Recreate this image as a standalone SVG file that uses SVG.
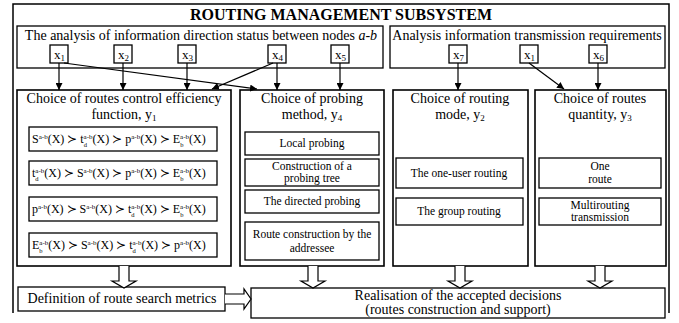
<svg xmlns="http://www.w3.org/2000/svg" width="679" height="323" viewBox="0 0 679 323" font-family="'Liberation Serif','Times New Roman',serif">
<defs>
<style>
text{font-family:"Liberation Serif","Times New Roman",serif;fill:#000}
.box{fill:#fff;stroke:#000;stroke-width:1.3}
.big{stroke-width:1.6}
.t13{font-size:14px}
.t12{font-size:14px}
.t11{font-size:11.5px}
.f{font-size:12px}
.sup{font-size:7px}
.sub{font-size:6.5px}
.xs{font-size:13px}
.xn{font-size:9px}
.title{font-size:16px;font-weight:bold}
.ln{stroke:#000;stroke-width:1.2;fill:none;marker-end:url(#ah)}
.hol{fill:#fff;stroke:#000;stroke-width:1.2}
</style>
<marker id="ah" viewBox="0 0 10 10" refX="10" refY="5" markerWidth="7" markerHeight="7" markerUnits="userSpaceOnUse" orient="auto">
<path d="M0,0 L10,5 L0,10 z" fill="#000"/>
</marker>
</defs>
<rect width="679" height="323" fill="#fff"/>
<path d="M13,313 V4 H669 V313" fill="none" stroke="#000" stroke-width="1.5"/>
<text class="title" x="341" y="20" text-anchor="middle">ROUTING MANAGEMENT SUBSYSTEM</text>

<g id="analysis-status">
<rect class="box" x="17" y="26" width="366" height="42"/>
<text class="t13" x="201" y="40" text-anchor="middle">The analysis of information direction status between nodes <tspan font-style="italic">a-b</tspan></text>
</g>
<g id="analysis-requirements">
<rect class="box" x="390" y="26" width="275" height="42"/>
<text class="t13" x="527" y="40" text-anchor="middle">Analysis information transmission requirements</text>
</g>

<g id="x1"><rect class="box" x="50" y="45" width="18" height="18"/><text class="xs" x="54" y="59">x<tspan class="xn" dy="2">1</tspan></text></g>
<g id="x2"><rect class="box" x="114" y="45" width="18" height="18"/><text class="xs" x="118" y="59">x<tspan class="xn" dy="2">2</tspan></text></g>
<g id="x3"><rect class="box" x="178" y="45" width="18" height="18"/><text class="xs" x="182" y="59">x<tspan class="xn" dy="2">3</tspan></text></g>
<g id="x4"><rect class="box" x="268" y="45" width="18" height="18"/><text class="xs" x="272" y="59">x<tspan class="xn" dy="2">4</tspan></text></g>
<g id="x5"><rect class="box" x="331" y="45" width="18" height="18"/><text class="xs" x="335" y="59">x<tspan class="xn" dy="2">5</tspan></text></g>
<g id="x7"><rect class="box" x="449" y="45" width="18" height="18"/><text class="xs" x="453" y="59">x<tspan class="xn" dy="2">7</tspan></text></g>
<g id="x1b"><rect class="box" x="520" y="45" width="18" height="18"/><text class="xs" x="524" y="59">x<tspan class="xn" dy="2">1</tspan></text></g>
<g id="x6"><rect class="box" x="589" y="45" width="18" height="18"/><text class="xs" x="593" y="59">x<tspan class="xn" dy="2">6</tspan></text></g>

<g id="efficiency">
<rect class="box big" x="17" y="90" width="214" height="176"/>
<text class="t13" x="124" y="103" text-anchor="middle">Choice of routes control efficiency</text>
<text class="t13" x="124" y="119" text-anchor="middle">function, y<tspan class="xn" dy="2">1</tspan></text>
<rect class="box" x="29" y="127" width="188" height="24"/>
<text class="f" x="32" y="143">S<tspan class="sup" dy="-4.5">a-b</tspan><tspan dy="4.5">(X) ≻ t</tspan><tspan class="sub" dy="3.5">d</tspan><tspan class="sup" dx="-3.3" dy="-8">a-b</tspan><tspan dy="4.5">(X) ≻ p</tspan><tspan class="sup" dy="-4.5">a-b</tspan><tspan dy="4.5">(X) ≻ E</tspan><tspan class="sub" dy="3.5">b</tspan><tspan class="sup" dx="-3.3" dy="-8">a-b</tspan><tspan dy="4.5">(X)</tspan></text>
<rect class="box" x="29" y="161" width="188" height="24"/>
<text class="f" x="32" y="177">t<tspan class="sub" dy="3.5">d</tspan><tspan class="sup" dx="-3.3" dy="-8">a-b</tspan><tspan dy="4.5">(X) ≻ S</tspan><tspan class="sup" dy="-4.5">a-b</tspan><tspan dy="4.5">(X) ≻ p</tspan><tspan class="sup" dy="-4.5">a-b</tspan><tspan dy="4.5">(X) ≻ E</tspan><tspan class="sub" dy="3.5">b</tspan><tspan class="sup" dx="-3.3" dy="-8">a-b</tspan><tspan dy="4.5">(X)</tspan></text>
<rect class="box" x="29" y="197" width="188" height="24"/>
<text class="f" x="32" y="213">p<tspan class="sup" dy="-4.5">a-b</tspan><tspan dy="4.5">(X) ≻ S</tspan><tspan class="sup" dy="-4.5">a-b</tspan><tspan dy="4.5">(X) ≻ t</tspan><tspan class="sub" dy="3.5">d</tspan><tspan class="sup" dx="-3.3" dy="-8">a-b</tspan><tspan dy="4.5">(X) ≻ E</tspan><tspan class="sub" dy="3.5">b</tspan><tspan class="sup" dx="-3.3" dy="-8">a-b</tspan><tspan dy="4.5">(X)</tspan></text>
<rect class="box" x="29" y="233" width="188" height="24"/>
<text class="f" x="32" y="249">E<tspan class="sub" dy="3.5">b</tspan><tspan class="sup" dx="-3.3" dy="-8">a-b</tspan><tspan dy="4.5">(X) ≻ S</tspan><tspan class="sup" dy="-4.5">a-b</tspan><tspan dy="4.5">(X) ≻ t</tspan><tspan class="sub" dy="3.5">d</tspan><tspan class="sup" dx="-3.3" dy="-8">a-b</tspan><tspan dy="4.5">(X) ≻ p</tspan><tspan class="sup" dy="-4.5">a-b</tspan><tspan dy="4.5">(X)</tspan></text>
</g>

<g id="probing">
<rect class="box big" x="240" y="90" width="144" height="176"/>
<text class="t13" x="312" y="103" text-anchor="middle">Choice of probing</text>
<text class="t13" x="312" y="119" text-anchor="middle">method, y<tspan class="xn" dy="2">4</tspan></text>
<rect class="box" x="245" y="132" width="134" height="23"/>
<text class="t11" x="312" y="147" text-anchor="middle">Local probing</text>
<rect class="box" x="245" y="159" width="134" height="27"/>
<text class="t11" x="312" y="170" text-anchor="middle">Construction of a</text>
<text class="t11" x="312" y="182" text-anchor="middle">probing tree</text>
<rect class="box" x="245" y="190" width="134" height="23"/>
<text class="t11" x="312" y="205" text-anchor="middle">The directed probing</text>
<rect class="box" x="245" y="222" width="134" height="38"/>
<text class="t11" x="312" y="238" text-anchor="middle">Route construction by the</text>
<text class="t11" x="312" y="252" text-anchor="middle">addressee</text>
</g>

<g id="routing-mode">
<rect class="box big" x="393" y="90" width="135" height="176"/>
<text class="t13" x="460" y="103" text-anchor="middle">Choice of routing</text>
<text class="t13" x="460" y="119" text-anchor="middle">mode, y<tspan class="xn" dy="2">2</tspan></text>
<rect class="box" x="396" y="158" width="127" height="30"/>
<text class="t11" x="459" y="177" text-anchor="middle">The one-user routing</text>
<rect class="box" x="396" y="198" width="127" height="27"/>
<text class="t11" x="459" y="215" text-anchor="middle">The group routing</text>
</g>

<g id="routes-quantity">
<rect class="box big" x="535" y="90" width="131" height="176"/>
<text class="t13" x="600" y="103" text-anchor="middle">Choice of routes</text>
<text class="t13" x="600" y="119" text-anchor="middle">quantity, y<tspan class="xn" dy="2">3</tspan></text>
<rect class="box" x="539" y="158" width="122" height="30"/>
<text class="t11" x="600" y="170" text-anchor="middle">One</text>
<text class="t11" x="600" y="183" text-anchor="middle">route</text>
<rect class="box" x="539" y="198" width="122" height="27"/>
<text class="t11" x="600" y="209" text-anchor="middle">Multirouting</text>
<text class="t11" x="600" y="221" text-anchor="middle">transmission</text>
</g>

<g id="metrics">
<rect class="box" x="18" y="287" width="207" height="24"/>
<text class="t13" x="122" y="303" text-anchor="middle">Definition of route search metrics</text>
</g>

<g id="realisation">
<rect class="box" x="251" y="288" width="414" height="30"/>
<text class="t12" x="458" y="300" text-anchor="middle">Realisation of the accepted decisions</text>
<text class="t12" x="458" y="314" text-anchor="middle">(routes construction and support)</text>
</g>

<g id="connectors">
<line class="ln" x1="59" y1="63" x2="59" y2="90"/>
<line class="ln" x1="123" y1="63" x2="123" y2="90"/>
<line class="ln" x1="187" y1="63" x2="187" y2="90"/>
<line class="ln" x1="277" y1="63" x2="277" y2="90"/>
<line class="ln" x1="340" y1="63" x2="340" y2="90"/>
<line class="ln" x1="458" y1="63" x2="458" y2="90"/>
<line class="ln" x1="598" y1="63" x2="598" y2="90"/>
<line class="ln" x1="64" y1="63" x2="257" y2="89"/>
<line class="ln" x1="273" y1="63" x2="212" y2="89"/>
<line class="ln" x1="529" y1="63" x2="564" y2="89"/>
<path class="hol" d="M119,266 V281 H112 L124,288 L136,281 H129 V266"/>
<path class="hol" d="M308,266 V281 H301 L313,288 L325,281 H318 V266"/>
<path class="hol" d="M455,266 V281 H448 L460,288 L472,281 H465 V266"/>
<path class="hol" d="M595,266 V281 H588 L600,288 L612,281 H605 V266"/>
<path class="hol" d="M225,294 H244 V289 L251,299 L244,309 V304 H225"/>
</g>
</svg>
